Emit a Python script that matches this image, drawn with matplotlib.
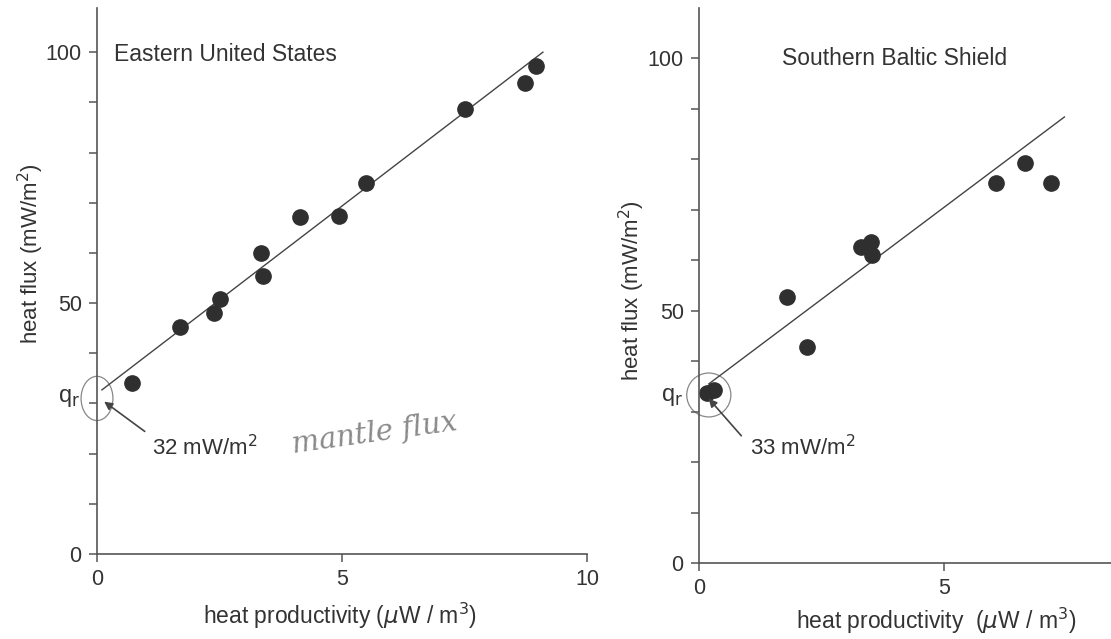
import matplotlib
matplotlib.use("Agg")
import matplotlib.pyplot as plt
from matplotlib.patches import Ellipse

plt.rcParams['font.family'] = ['Liberation Sans', 'DejaVu Sans']

# Eastern United States
east_x = [0.71, 1.69, 2.39, 2.50, 3.35, 3.38, 4.15, 4.93, 5.49, 7.51, 8.73, 8.95]
east_y = [34.1, 45.2, 48.1, 50.9, 59.9, 55.3, 67.1, 67.3, 74.0, 88.6, 93.8, 97.2]
east_line_x = [0.1, 9.1]
east_line_y = [32.7, 100.0]

# Southern Baltic Shield
baltic_x = [0.17, 0.30, 1.80, 2.21, 3.30, 3.50, 3.52, 6.05, 6.65, 7.18]
baltic_y = [33.6, 34.2, 52.8, 42.8, 62.7, 63.7, 61.1, 75.4, 79.3, 75.3]
baltic_line_x = [0.2, 7.45]
baltic_line_y = [35.5, 88.4]

y_major = [0, 50, 100]
y_minor = [10, 20, 30, 40, 60, 70, 80, 90]

ink = '#2f2f2f'
axis_col = '#555555'
text_col = '#333333'

fig = plt.figure(figsize=(11.11, 6.39), dpi=100)
ax1 = fig.add_axes([97 / 1111, 1 - 554 / 639, 490 / 1111, 546 / 639])
ax2 = fig.add_axes([699 / 1111, 1 - 563 / 639, 412 / 1111, 555 / 639])


def style(ax, xticks, xmax, ymax):
    ax.set_xlim(0, xmax)
    ax.set_ylim(0, ymax)
    for s in ['top', 'right']:
        ax.spines[s].set_visible(False)
    for s in ['left', 'bottom']:
        ax.spines[s].set_color(axis_col)
        ax.spines[s].set_linewidth(1.2)
    ax.set_xticks(xticks)
    ax.set_yticks(y_major)
    ax.set_yticks(y_minor, minor=True)
    ax.tick_params(axis='both', which='both', length=6, width=1.1,
                   color=axis_col, labelcolor=text_col, labelsize=15.5, pad=5)
    ax.patch.set_alpha(0)


style(ax1, [0, 5, 10], 10, 108.8)
style(ax2, [0, 5], 8.4, 110)

# left panel
ax1.plot(east_line_x, east_line_y, color='#444444', lw=1.0)
ax1.plot(east_x, east_y, 'o', color=ink, ms=11, mec=ink)
ax1.text(0.35, 99.5, 'Eastern United States', fontsize=16.5, color=text_col, va='center')
ax1.set_ylabel('heat flux (mW/m$^2$)', fontsize=16, color=text_col, va='center')
ax1.yaxis.set_label_coords(-0.135, 0.55)
ax1.set_xlabel('heat productivity ($\\mu$W / m$^3$)', fontsize=16.5, color=text_col,
               va='center')
ax1.xaxis.set_label_coords(0.496, -0.114)
ax1.add_patch(Ellipse((0, 31), 0.65, 8.8, fill=False, ec='#888888', lw=0.9, clip_on=False))
ax1.text(-0.34, 31, 'q$_\\mathrm{r}$', fontsize=17, color=text_col, ha='right', va='center')
ax1.annotate('', xy=(0.1, 30.7), xytext=(1.02, 24.1),
             arrowprops=dict(arrowstyle='-|>', color='#444444', lw=1.2, mutation_scale=12))
ax1.text(1.12, 21.3, '32 mW/m$^2$', fontsize=16, color=text_col, va='center')
ax1.text(3.95, 24, 'mantle flux', fontsize=21, color='#8a8a8a', va='center',
         family='DejaVu Serif', style='italic', rotation=8)

# right panel
ax2.plot(baltic_line_x, baltic_line_y, color='#444444', lw=1.0)
ax2.plot(baltic_x, baltic_y, 'o', color=ink, ms=11, mec=ink, clip_on=False)
ax2.text(3.98, 100, 'Southern Baltic Shield', fontsize=16.5, color=text_col,
         va='center', ha='center')
ax2.set_ylabel('heat flux (mW/m$^2$)', fontsize=16, color=text_col, va='center')
ax2.yaxis.set_label_coords(-0.163, 0.49)
ax2.set_xlabel('heat productivity  ($\\mu$W / m$^3$)', fontsize=16.5, color=text_col,
               va='center')
ax2.xaxis.set_label_coords(0.575, -0.104)
ax2.add_patch(Ellipse((0.2, 33.3), 0.9, 8.7, fill=False, ec='#888888',
                      lw=0.9, clip_on=False))
ax2.text(-0.33, 33, 'q$_\\mathrm{r}$', fontsize=17, color=text_col, ha='right', va='center')
ax2.annotate('', xy=(0.16, 33), xytext=(0.9, 24.8),
             arrowprops=dict(arrowstyle='-|>', color='#444444', lw=1.2, mutation_scale=12))
ax2.text(1.04, 22.8, '33 mW/m$^2$', fontsize=16, color=text_col, va='center')

fig.savefig('out.png', dpi=100)
